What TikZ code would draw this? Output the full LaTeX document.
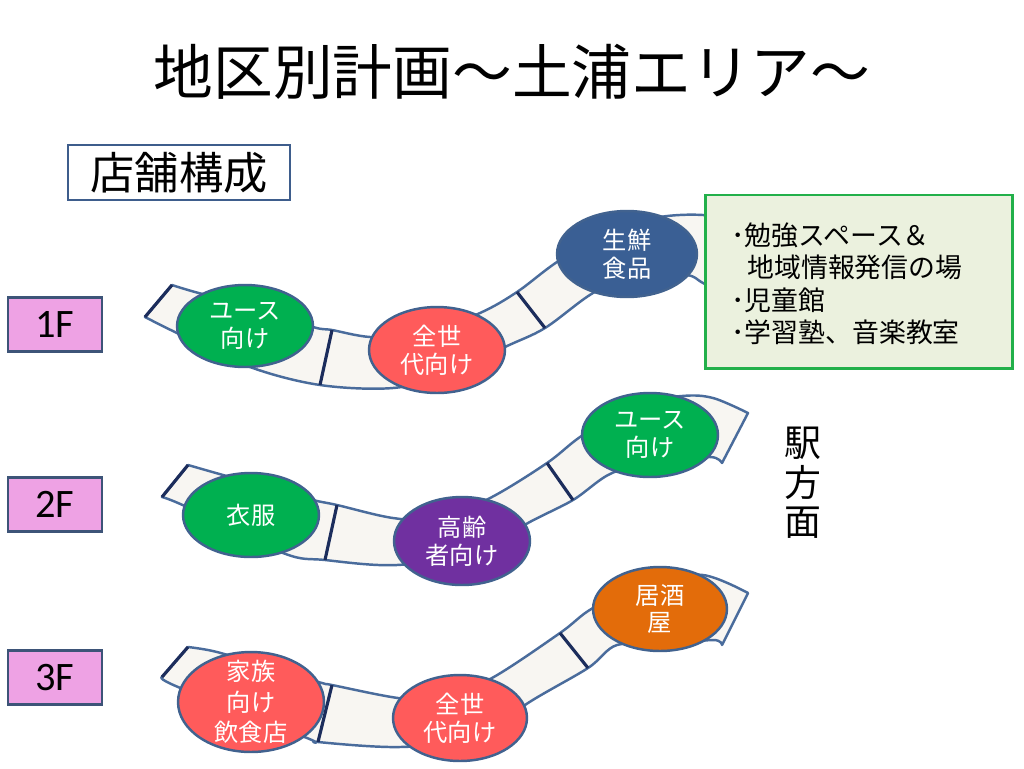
\documentclass[tikz,border=0pt]{standalone}
\usepackage{fontspec}
\setmainfont{Noto Sans CJK JP}
\newfontfamily\latinf{Carlito}
\usetikzlibrary{shapes.geometric}
\definecolor{bandedge}{HTML}{4A6C9C}
\definecolor{bandfill}{HTML}{F8F6F2}
\definecolor{divline}{HTML}{1C2D5C}
\definecolor{elledge}{HTML}{41628F}
\definecolor{cgreen}{HTML}{00B050}
\definecolor{cred}{HTML}{FF5B5B}
\definecolor{cblue}{HTML}{3A5F94}
\definecolor{cpurple}{HTML}{7030A0}
\definecolor{corange}{HTML}{E36C0A}
\definecolor{floorfill}{HTML}{EEA2E4}
\definecolor{flooredge}{HTML}{3D5478}
\definecolor{headedge}{HTML}{3E5D8C}
\definecolor{infofill}{HTML}{EBF1DE}
\definecolor{infoedge}{HTML}{22B04A}
\tikzset{
  band/.style={fill=bandfill, draw=bandedge, line width=1.4pt, line join=round},
  divider/.style={draw=divline, line width=1.8pt},
  shop/.style args={#1/#2/#3}{ellipse, draw=elledge, line width=1.4pt, fill=#1,
     inner sep=0pt, minimum width=#2*0.04cm, minimum height=#3*0.04cm},
  shoptext/.style={text=white, align=center, inner sep=0pt,
     font=\fontsize{13.8}{15.8}\selectfont},
  shoptextiii/.style={text=white, align=center, inner sep=0pt,
     font=\fontsize{13.8}{17.3}\selectfont},
  floorbox/.style={draw=flooredge, line width=1.4pt, fill=floorfill,
     minimum width=94*0.02cm, minimum height=54*0.02cm, inner sep=0pt,
     font=\latinf\fontsize{23}{26}\selectfont},
  infoline/.style={anchor=west, inner sep=0pt, font=\fontsize{15.3}{18.4}\selectfont},
  smoothpl/.style={smooth, tension=0.55}
}
\begin{document}
\begin{tikzpicture}[x=0.02cm, y=-0.02cm]
\useasboundingbox (0,0) rectangle (1024,768);
\fill[white] (0,0) rectangle (1024,768);

% title
\node[font=\fontsize{34}{40}\selectfont, inner sep=0pt] (title) at (512,72) {地区別計画～土浦エリア～};

% heading box
\node[draw=headedge, line width=1.7pt, fill=white, minimum width=222*0.02cm,
      minimum height=55*0.02cm, inner sep=0pt, font=\fontsize{25.2}{28}\selectfont]
      (head) at (179,172.5) {店舗構成};

% floor labels
\node[floorbox] (f1) at (55,324.5) {1F};
\node[floorbox] (f2) at (55,504.5) {2F};
\node[floorbox] (f3) at (55,677.5) {3F};

% ---------- 1F band ----------
\filldraw[band] plot[smoothpl] coordinates {(172,285) (195,292) (255,308) (313,327) (332,330) (370,337) (420,336) (480,313) (517,292) (557,262) (610,230) (660,217) (703,215) (740,222)}
  -- plot[smoothpl] coordinates {(735,300) (703,283) (687,275) (640,272) (593,293) (545,328) (505,347) (450,374) (393,388) (320,385) (250,367) (177,333) (145,317)} -- cycle;
\draw[divider] (172,285) -- (145,317);
\draw[divider] (332,330) -- (320,385);
\draw[divider] (517,292) -- (545,328);

% ---------- 2F band ----------
\filldraw[band] plot[smoothpl] coordinates {(188,465) (223,475) (270,488) (313,500) (337,505) (393,518) (440,519) (492,497) (547,463) (580,437) (630,405) (682,396) (713,398) (748,413)}
  -- plot[smoothpl] coordinates {(722,463) (710,457) (660,462) (612,473) (573,500) (528,523) (480,552) (397,565) (325,560) (283,553) (187,507) (162,497)} -- cycle;
\draw[divider] (188,465) -- (162,497);
\draw[divider] (337,505) -- (325,560);
\draw[divider] (547,463) -- (573,500);

% ---------- 3F band ----------
\filldraw[band] plot[smoothpl] coordinates {(188,647) (217,652) (270,668) (322,683) (332,685) (398,698) (440,699) (492,678) (560,633) (593,608) (650,582) (703,575) (748,593)}
  -- plot[smoothpl] coordinates {(722,645) (713,640) (662,645) (617,645) (588,668) (528,703) (480,738) (400,747) (318,742) (307,738) (178,687) (162,677)} -- cycle;
\draw[divider] (188,647) -- (162,677);
\draw[divider] (332,685) -- (318,742);
\draw[divider] (560,633) -- (588,668);

% ---------- shops 1F ----------
\node[shop=cgreen/68/41, label={[shoptext]center:{ユース\\向け}}] (s11) at (245,326) {};
\node[shop=cred/68/43, label={[shoptext]center:{全世\\代向け}}] (s12) at (437,350) {};
\node[shop=cblue/70/43, label={[shoptext]center:{生鮮\\食品}}] (s13) at (627,254) {};

% ---------- shops 2F ----------
\node[shop=cgreen/68/42, label={[shoptext]center:{衣服}}] (s21) at (251,515) {};
\node[shop=cpurple/68/44, label={[shoptext]center:{高齢\\者向け}}] (s22) at (462,541) {};
\node[shop=cgreen/68/42, label={[shoptext]center:{ユース\\向け}}] (s23) at (650,435) {};

% ---------- shops 3F ----------
\node[shop=cred/73/50, label={[shoptextiii]center:{家族\\向け\\飲食店}}] (s31) at (251,702) {};
\node[shop=cred/67/43, label={[shoptext]center:{全世\\代向け}}] (s32) at (460,718) {};
\node[shop=corange/67/42, label={[shoptext]center:{居酒\\屋}}] (s33) at (660,609) {};

% info box
\node[draw=infoedge, line width=1.7pt, fill=infofill, minimum width=307*0.02cm,
      minimum height=173*0.02cm, inner sep=0pt] (info) at (858.5,281.5) {};
\node[infoline] (i1) at (731,235) {･勉強スペース＆};
\node[infoline] (i2) at (747,267) {地域情報発信の場};
\node[infoline] (i3) at (731,300) {･児童館};
\node[infoline] (i4) at (731,332) {･学習塾、音楽教室};

% station direction
\node[align=center, inner sep=0pt, font=\fontsize{21}{22.4}\selectfont] (eki) at (803,483) {駅\\方\\面};
\end{tikzpicture}
\end{document}
